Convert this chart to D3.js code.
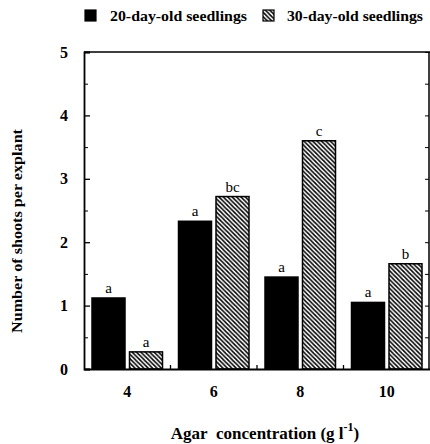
<!DOCTYPE html>
<html><head><meta charset="utf-8">
<script src="https://cdn.jsdelivr.net/npm/d3@7"></script>
<style>body{margin:0;background:#fff}svg{display:block}</style>
</head><body>
<script>
const categories = ["4", "6", "8", "10"];
const seriesNames = ["20-day-old seedlings", "30-day-old seedlings"];
const day20 = [1.12, 2.33, 1.45, 1.05];
const day30 = [0.27, 2.72, 3.60, 1.66];
const letters20 = ["a", "a", "a", "a"];
const letters30 = ["a", "bc", "c", "b"];
const yTicks = [0, 1, 2, 3, 4, 5];

const W = 430, H = 444;
const svg = d3.select("body").append("svg").attr("width", W).attr("height", H);
const font = "'Liberation Serif','DejaVu Serif',serif";

const defs = svg.append("defs");
const pat = defs.append("pattern").attr("id", "hatch").attr("patternUnits", "userSpaceOnUse")
  .attr("width", 4.4).attr("height", 4.4);
pat.append("rect").attr("width", 4.4).attr("height", 4.4).attr("fill", "#fff");
pat.append("path").attr("d", "M-1,-1 L5.4,5.4 M-1,3.4 L1,5.4 M3.4,-1 L5.4,1")
  .attr("stroke", "#000").attr("stroke-width", 1.5);

const x0 = 84, x1 = 430, yTop = 52, yBot = 369;
const x = d3.scaleBand().domain(categories).range([x0, x1]);
const xi = d3.scaleBand().domain([0, 1]).range([8, x.bandwidth() - 8]).paddingInner(0.12);
const y = d3.scaleLinear().domain([0, 5]).range([yBot, yTop]);

const data = categories.map((c, i) => ({c, v: [day20[i], day30[i]], l: [letters20[i], letters30[i]]}));

const g = svg.append("g");
data.forEach(d => {
  [0, 1].forEach(s => {
    g.append("rect")
      .attr("x", x(d.c) + xi(s)).attr("y", y(d.v[s]))
      .attr("width", xi.bandwidth()).attr("height", y(0) - y(d.v[s]))
      .attr("fill", s === 0 ? "#000" : "url(#hatch)")
      .attr("stroke", "#000").attr("stroke-width", 1.5);
    g.append("text")
      .attr("x", x(d.c) + xi(s) + xi.bandwidth() / 2).attr("y", y(d.v[s]) - 5)
      .attr("text-anchor", "middle").attr("font-family", font).attr("font-size", 15)
      .text(d.l[s]);
  });
});

// frame
svg.append("path").attr("d", `M${x0},${yTop} L${x1},${yTop} M${x1 - 1},${yTop} L${x1 - 1},${yBot}`)
  .attr("stroke", "#000").attr("stroke-width", 1.5).attr("fill", "none");

// y axis
const yAxis = d3.axisLeft(y).tickValues(yTicks).tickSize(-6).tickPadding(16).tickFormat(d3.format("d"));
const ya = svg.append("g").attr("transform", `translate(${x0},0)`).call(yAxis);
ya.select(".domain").attr("stroke-width", 1.8);
ya.selectAll(".tick line").attr("stroke-width", 1.3);
ya.selectAll("text").attr("font-family", font).attr("font-size", 16).attr("font-weight", "bold");
const minor = d3.range(0.5, 5, 1);
const ym = d3.axisLeft(y).tickValues(minor).tickSize(-4).tickFormat("");
const ymg = svg.append("g").attr("transform", `translate(${x0},0)`).call(ym);
ymg.select(".domain").remove();
// right side ticks
const yr = d3.axisRight(y).tickValues(yTicks.concat(minor)).tickSize(-4).tickFormat("");
const yrg = svg.append("g").attr("transform", `translate(${x1 - 1},0)`).call(yr);
yrg.select(".domain").remove();

// x axis
const xAxis = d3.axisBottom(x).tickSize(0).tickPadding(17);
const xa = svg.append("g").attr("transform", `translate(0,${yBot})`).call(xAxis);
xa.select(".domain").attr("stroke-width", 1.8);
xa.selectAll("text").attr("font-family", font).attr("font-size", 16).attr("font-weight", "bold");
// boundary ticks
categories.slice(1).forEach(c => {
  svg.append("line").attr("x1", x(c)).attr("x2", x(c)).attr("y1", yBot).attr("y2", yBot - 4)
    .attr("stroke", "#000").attr("stroke-width", 1.3);
});

// axis titles
const xt = svg.append("text").attr("x", 265).attr("y", 439).attr("text-anchor", "middle")
  .attr("font-family", font).attr("font-size", 17).attr("font-weight", "bold");
xt.append("tspan").text("Agar\u00a0 concentration (g l");
xt.append("tspan").attr("dy", -8).attr("font-size", 12).text("-1");
xt.append("tspan").attr("dy", 8).text(")");

svg.append("text").attr("transform", "translate(22,231) rotate(-90)").attr("text-anchor", "middle")
  .attr("font-family", font).attr("font-size", 14).attr("font-weight", "bold")
  .attr("textLength", 204).attr("lengthAdjust", "spacingAndGlyphs")
  .text("Number of shoots per explant");

// legend
const leg = [{x: 85, fill: "#000", t: seriesNames[0], tx: 110, w: 137}, {x: 263, fill: "url(#hatch)", t: seriesNames[1], tx: 287, w: 136}];
leg.forEach(l => {
  svg.append("rect").attr("x", l.x).attr("y", 10).attr("width", 11).attr("height", 11)
    .attr("fill", l.fill).attr("stroke", "#000").attr("stroke-width", 1.2);
  svg.append("text").attr("x", l.tx).attr("y", 21).attr("font-family", font)
    .attr("font-size", 14).attr("font-weight", "bold")
    .attr("textLength", l.w).attr("lengthAdjust", "spacingAndGlyphs").text(l.t);
});
</script>
</body></html>
